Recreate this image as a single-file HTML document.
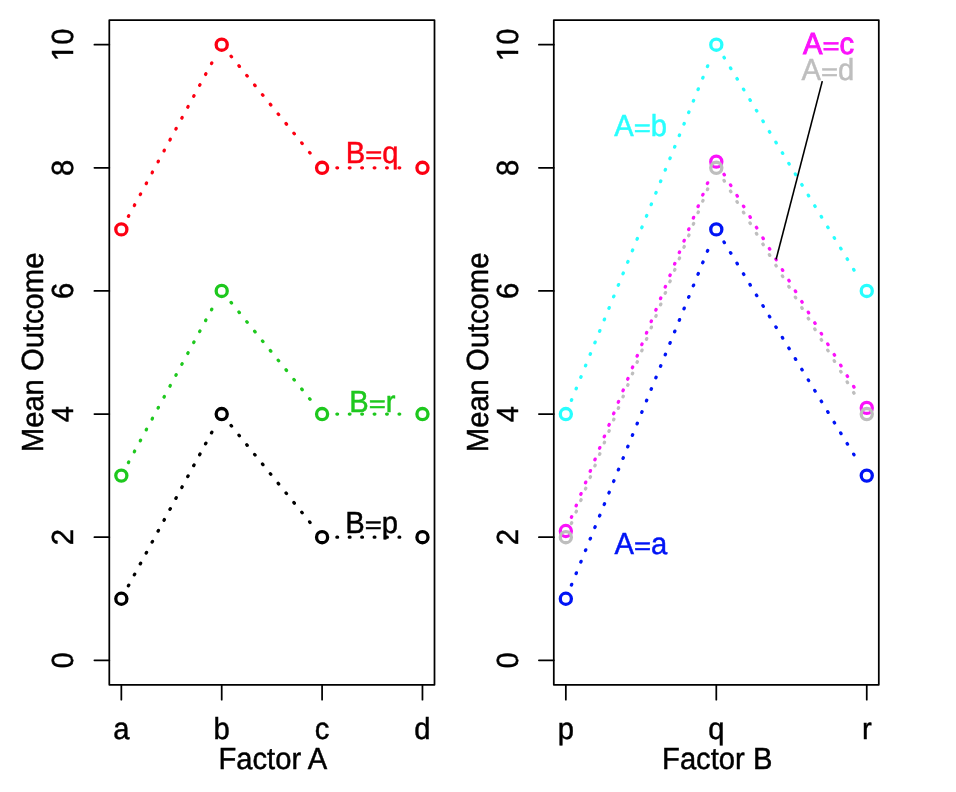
<!DOCTYPE html>
<html><head><meta charset="utf-8"><style>
html,body{margin:0;padding:0;background:#fff;width:956px;height:792px;overflow:hidden}
svg{display:block;will-change:transform}
text{font-family:"Liberation Sans",Arial,Helvetica,sans-serif;font-size:29.2px;text-rendering:geometricPrecision;stroke:currentColor;stroke-width:0.45px}
.bold text{stroke-width:0.9px!important}
</style></head><body>
<svg width="956" height="792" viewBox="0 0 956 792">
<rect width="956" height="792" fill="#fff"/>
<rect x="109.3" y="20.0" width="325.20" height="664.80" fill="none" stroke="#000" stroke-width="1.75" stroke-linejoin="round"/>
<line x1="109.3" y1="660.30" x2="94.40" y2="660.30" stroke="#000" stroke-width="1.75" stroke-linecap="round"/>
<text transform="translate(73.40 660.30) rotate(-90) scale(1 1.045)" text-anchor="middle">0</text>
<line x1="109.3" y1="537.18" x2="94.40" y2="537.18" stroke="#000" stroke-width="1.75" stroke-linecap="round"/>
<text transform="translate(73.40 537.18) rotate(-90) scale(1 1.045)" text-anchor="middle">2</text>
<line x1="109.3" y1="414.06" x2="94.40" y2="414.06" stroke="#000" stroke-width="1.75" stroke-linecap="round"/>
<text transform="translate(73.40 414.06) rotate(-90) scale(1 1.045)" text-anchor="middle">4</text>
<line x1="109.3" y1="290.94" x2="94.40" y2="290.94" stroke="#000" stroke-width="1.75" stroke-linecap="round"/>
<text transform="translate(73.40 290.94) rotate(-90) scale(1 1.045)" text-anchor="middle">6</text>
<line x1="109.3" y1="167.82" x2="94.40" y2="167.82" stroke="#000" stroke-width="1.75" stroke-linecap="round"/>
<text transform="translate(73.40 167.82) rotate(-90) scale(1 1.045)" text-anchor="middle">8</text>
<line x1="109.3" y1="44.70" x2="94.40" y2="44.70" stroke="#000" stroke-width="1.75" stroke-linecap="round"/>
<text transform="translate(73.40 44.70) rotate(-90) scale(1 1.045)" text-anchor="middle">10</text>
<line x1="121.34" y1="684.8" x2="121.34" y2="699.70" stroke="#000" stroke-width="1.75" stroke-linecap="round"/>
<text transform="translate(121.34 739.10) scale(1 1.045)" text-anchor="middle">a</text>
<line x1="221.71" y1="684.8" x2="221.71" y2="699.70" stroke="#000" stroke-width="1.75" stroke-linecap="round"/>
<text transform="translate(221.71 739.10) scale(1 1.045)" text-anchor="middle">b</text>
<line x1="322.09" y1="684.8" x2="322.09" y2="699.70" stroke="#000" stroke-width="1.75" stroke-linecap="round"/>
<text transform="translate(322.09 739.10) scale(1 1.045)" text-anchor="middle">c</text>
<line x1="422.46" y1="684.8" x2="422.46" y2="699.70" stroke="#000" stroke-width="1.75" stroke-linecap="round"/>
<text transform="translate(422.46 739.10) scale(1 1.045)" text-anchor="middle">d</text>
<text transform="translate(272.80 768.70) scale(1 1.045)" text-anchor="middle">Factor A</text>
<text transform="translate(43.20 352.40) rotate(-90) scale(1 1.045)" text-anchor="middle">Mean Outcome</text>
<rect x="553.8" y="20.0" width="325.00" height="664.80" fill="none" stroke="#000" stroke-width="1.75" stroke-linejoin="round"/>
<line x1="553.8" y1="660.30" x2="538.90" y2="660.30" stroke="#000" stroke-width="1.75" stroke-linecap="round"/>
<text transform="translate(518.00 660.30) rotate(-90) scale(1 1.045)" text-anchor="middle">0</text>
<line x1="553.8" y1="537.18" x2="538.90" y2="537.18" stroke="#000" stroke-width="1.75" stroke-linecap="round"/>
<text transform="translate(518.00 537.18) rotate(-90) scale(1 1.045)" text-anchor="middle">2</text>
<line x1="553.8" y1="414.06" x2="538.90" y2="414.06" stroke="#000" stroke-width="1.75" stroke-linecap="round"/>
<text transform="translate(518.00 414.06) rotate(-90) scale(1 1.045)" text-anchor="middle">4</text>
<line x1="553.8" y1="290.94" x2="538.90" y2="290.94" stroke="#000" stroke-width="1.75" stroke-linecap="round"/>
<text transform="translate(518.00 290.94) rotate(-90) scale(1 1.045)" text-anchor="middle">6</text>
<line x1="553.8" y1="167.82" x2="538.90" y2="167.82" stroke="#000" stroke-width="1.75" stroke-linecap="round"/>
<text transform="translate(518.00 167.82) rotate(-90) scale(1 1.045)" text-anchor="middle">8</text>
<line x1="553.8" y1="44.70" x2="538.90" y2="44.70" stroke="#000" stroke-width="1.75" stroke-linecap="round"/>
<text transform="translate(518.00 44.70) rotate(-90) scale(1 1.045)" text-anchor="middle">10</text>
<line x1="565.84" y1="684.8" x2="565.84" y2="699.70" stroke="#000" stroke-width="1.75" stroke-linecap="round"/>
<text transform="translate(565.84 739.10) scale(1 1.045)" text-anchor="middle">p</text>
<line x1="716.30" y1="684.8" x2="716.30" y2="699.70" stroke="#000" stroke-width="1.75" stroke-linecap="round"/>
<text transform="translate(716.30 739.10) scale(1 1.045)" text-anchor="middle">q</text>
<line x1="866.76" y1="684.8" x2="866.76" y2="699.70" stroke="#000" stroke-width="1.75" stroke-linecap="round"/>
<text transform="translate(866.76 739.10) scale(1 1.045)" text-anchor="middle">r</text>
<text transform="translate(717.20 768.70) scale(1 1.045)" text-anchor="middle">Factor B</text>
<text transform="translate(487.80 352.40) rotate(-90) scale(1 1.045)" text-anchor="middle">Mean Outcome</text>
<rect x="70" y="53.90" width="5" height="5.6" fill="#fff"/>
<rect x="70" y="45.60" width="5" height="5.2" fill="#fff"/>
<rect x="515" y="53.90" width="5" height="5.6" fill="#fff"/>
<rect x="515" y="45.60" width="5" height="5.2" fill="#fff"/>
<line x1="128.41" y1="585.74" x2="214.65" y2="427.06" stroke="#000000" stroke-width="3.3" stroke-linecap="round" stroke-dasharray="0.7 11.73"/>
<line x1="231.07" y1="425.53" x2="312.73" y2="525.71" stroke="#000000" stroke-width="3.3" stroke-linecap="round" stroke-dasharray="0.7 11.73"/>
<line x1="336.89" y1="537.18" x2="407.66" y2="537.18" stroke="#000000" stroke-width="3.3" stroke-linecap="round" stroke-dasharray="0.7 11.73"/>
<circle cx="121.34" cy="598.74" r="5.55" fill="none" stroke="#000000" stroke-width="3.3"/>
<circle cx="221.71" cy="414.06" r="5.55" fill="none" stroke="#000000" stroke-width="3.3"/>
<circle cx="322.09" cy="537.18" r="5.55" fill="none" stroke="#000000" stroke-width="3.3"/>
<circle cx="422.46" cy="537.18" r="5.55" fill="none" stroke="#000000" stroke-width="3.3"/>
<line x1="128.41" y1="216.38" x2="214.65" y2="57.70" stroke="#FC0012" stroke-width="3.3" stroke-linecap="round" stroke-dasharray="0.7 11.73"/>
<line x1="231.07" y1="56.17" x2="312.73" y2="156.35" stroke="#FC0012" stroke-width="3.3" stroke-linecap="round" stroke-dasharray="0.7 11.73"/>
<line x1="336.89" y1="167.82" x2="407.66" y2="167.82" stroke="#FC0012" stroke-width="3.3" stroke-linecap="round" stroke-dasharray="0.7 11.73"/>
<circle cx="121.34" cy="229.38" r="5.55" fill="none" stroke="#FC0012" stroke-width="3.3"/>
<circle cx="221.71" cy="44.70" r="5.55" fill="none" stroke="#FC0012" stroke-width="3.3"/>
<circle cx="322.09" cy="167.82" r="5.55" fill="none" stroke="#FC0012" stroke-width="3.3"/>
<circle cx="422.46" cy="167.82" r="5.55" fill="none" stroke="#FC0012" stroke-width="3.3"/>
<line x1="128.41" y1="462.62" x2="214.65" y2="303.94" stroke="#1EC81E" stroke-width="3.3" stroke-linecap="round" stroke-dasharray="0.7 11.73"/>
<line x1="231.07" y1="302.41" x2="312.73" y2="402.59" stroke="#1EC81E" stroke-width="3.3" stroke-linecap="round" stroke-dasharray="0.7 11.73"/>
<line x1="336.89" y1="414.06" x2="407.66" y2="414.06" stroke="#1EC81E" stroke-width="3.3" stroke-linecap="round" stroke-dasharray="0.7 11.73"/>
<circle cx="121.34" cy="475.62" r="5.55" fill="none" stroke="#1EC81E" stroke-width="3.3"/>
<circle cx="221.71" cy="290.94" r="5.55" fill="none" stroke="#1EC81E" stroke-width="3.3"/>
<circle cx="322.09" cy="414.06" r="5.55" fill="none" stroke="#1EC81E" stroke-width="3.3"/>
<circle cx="422.46" cy="414.06" r="5.55" fill="none" stroke="#1EC81E" stroke-width="3.3"/>
<g fill="#FC0012" color="#FC0012"><text transform="translate(345.82 162.60) scale(1 1.045)">B</text><text transform="translate(365.29 162.60) scale(1 0.8078)" style="stroke-width:0.6px">=</text><text transform="translate(382.34 162.60) scale(1 1.045)">q</text></g>
<g fill="#1EC81E" color="#1EC81E"><text transform="translate(349.27 411.70) scale(1 1.045)">B</text><text transform="translate(368.75 411.70) scale(1 0.8078)" style="stroke-width:0.6px">=</text><text transform="translate(385.80 411.70) scale(1 1.045)">r</text></g>
<g fill="#000000" color="#000000"><text transform="translate(345.22 532.60) scale(1 1.045)">B</text><text transform="translate(364.69 532.60) scale(1 0.8078)" style="stroke-width:0.6px">=</text><text transform="translate(381.74 532.60) scale(1 1.045)">p</text></g>
<line x1="571.42" y1="585.03" x2="710.72" y2="243.09" stroke="#0014F5" stroke-width="3.3" stroke-linecap="round" stroke-dasharray="0.7 11.73"/>
<line x1="724.02" y1="242.01" x2="859.05" y2="462.99" stroke="#0014F5" stroke-width="3.3" stroke-linecap="round" stroke-dasharray="0.7 11.73"/>
<circle cx="565.84" cy="598.74" r="5.55" fill="none" stroke="#0014F5" stroke-width="3.3"/>
<circle cx="716.30" cy="229.38" r="5.55" fill="none" stroke="#0014F5" stroke-width="3.3"/>
<circle cx="866.76" cy="475.62" r="5.55" fill="none" stroke="#0014F5" stroke-width="3.3"/>
<line x1="571.42" y1="400.35" x2="710.72" y2="58.41" stroke="#28FEFE" stroke-width="3.3" stroke-linecap="round" stroke-dasharray="0.7 11.73"/>
<line x1="724.02" y1="57.33" x2="859.05" y2="278.31" stroke="#28FEFE" stroke-width="3.3" stroke-linecap="round" stroke-dasharray="0.7 11.73"/>
<circle cx="565.84" cy="414.06" r="5.55" fill="none" stroke="#28FEFE" stroke-width="3.3"/>
<circle cx="716.30" cy="44.70" r="5.55" fill="none" stroke="#28FEFE" stroke-width="3.3"/>
<circle cx="866.76" cy="290.94" r="5.55" fill="none" stroke="#28FEFE" stroke-width="3.3"/>
<line x1="571.42" y1="517.32" x2="710.72" y2="175.37" stroke="#FB12FB" stroke-width="3.3" stroke-linecap="round" stroke-dasharray="0.7 11.73"/>
<line x1="724.02" y1="174.29" x2="859.05" y2="395.28" stroke="#FB12FB" stroke-width="3.3" stroke-linecap="round" stroke-dasharray="0.7 11.73"/>
<circle cx="565.84" cy="531.02" r="5.55" fill="none" stroke="#FB12FB" stroke-width="3.3"/>
<circle cx="716.30" cy="161.66" r="5.55" fill="none" stroke="#FB12FB" stroke-width="3.3"/>
<circle cx="866.76" cy="407.90" r="5.55" fill="none" stroke="#FB12FB" stroke-width="3.3"/>
<line x1="571.42" y1="523.47" x2="710.72" y2="181.53" stroke="#BEBEBE" stroke-width="3.3" stroke-linecap="round" stroke-dasharray="0.7 11.73"/>
<line x1="724.02" y1="180.45" x2="859.05" y2="401.43" stroke="#BEBEBE" stroke-width="3.3" stroke-linecap="round" stroke-dasharray="0.7 11.73"/>
<circle cx="565.84" cy="537.18" r="5.55" fill="none" stroke="#BEBEBE" stroke-width="3.3"/>
<circle cx="716.30" cy="167.82" r="5.55" fill="none" stroke="#BEBEBE" stroke-width="3.3"/>
<circle cx="866.76" cy="414.06" r="5.55" fill="none" stroke="#BEBEBE" stroke-width="3.3"/>
<g fill="#28FEFE" color="#28FEFE"><text transform="translate(614.22 135.60) scale(1 1.045)">A</text><text transform="translate(633.69 135.60) scale(1 0.8078)" style="stroke-width:0.6px">=</text><text transform="translate(650.74 135.60) scale(1 1.045)">b</text></g>
<g fill="#0014F5" color="#0014F5"><text transform="translate(614.42 553.90) scale(1 1.045)">A</text><text transform="translate(633.89 553.90) scale(1 0.8078)" style="stroke-width:0.6px">=</text><text transform="translate(650.94 553.90) scale(1 1.045)">a</text></g>
<g fill="#FB12FB" color="#FB12FB" class="bold"><text transform="translate(802.94 54.10) scale(1 1.045)">A</text><text transform="translate(822.41 54.10) scale(1 0.8078)" style="stroke-width:0.6px">=</text><text transform="translate(839.46 54.10) scale(1 1.045)">c</text></g>
<g fill="#BEBEBE" color="#BEBEBE"><text transform="translate(801.52 79.80) scale(1 1.045)">A</text><text transform="translate(820.99 79.80) scale(1 0.8078)" style="stroke-width:0.6px">=</text><text transform="translate(838.04 79.80) scale(1 1.045)">d</text></g>
<line x1="822.3" y1="81.1" x2="776.1" y2="259.4" stroke="#000" stroke-width="1.6"/>
</svg></body></html>
